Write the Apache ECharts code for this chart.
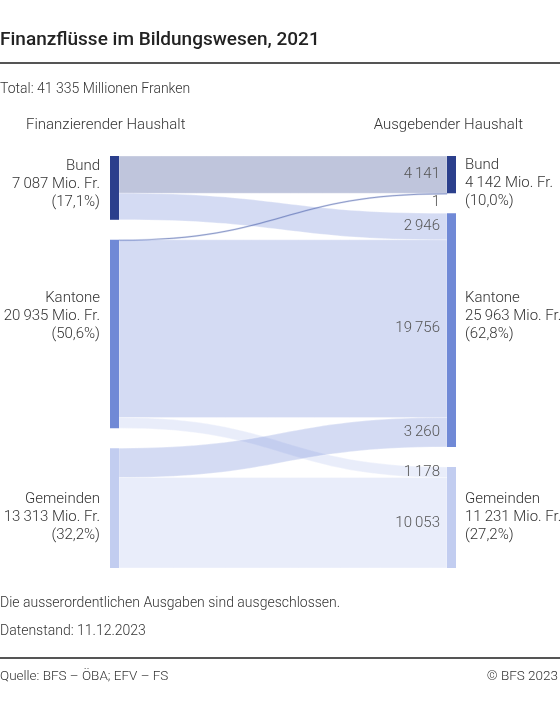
<!DOCTYPE html>
<html>
<head>
<meta charset="UTF-8">
<title>Finanzflüsse im Bildungswesen</title>
<script src="https://cdn.jsdelivr.net/npm/echarts@6/dist/echarts.min.js"></script>
<style>
  html, body { margin: 0; padding: 0; background: #fff; }
  #main { width: 560px; height: 717px; }
</style>
</head>
<body>
<div id="main"></div>
<script>
// Haushalte (links: finanzierend, rechts: ausgebend)
var labels = ['Bund', 'Kantone', 'Gemeinden'];
var nodeColors = ['#2b3f8c', '#7089d6', '#c2cdf0'];
var srcTotals = [7087, 20935, 13313];
var srcShares = ['17,1%', '50,6%', '32,2%'];
var dstTotals = [4142, 25963, 11231];
var dstShares = ['10,0%', '62,8%', '27,2%'];

// Flüsse: [von, nach, Mio. Fr.]
var flows = [
  [0, 0, 4141],
  [0, 1, 2946],
  [1, 0, 1],
  [1, 1, 19756],
  [1, 2, 1178],
  [2, 1, 3260],
  [2, 2, 10053]
];

var FONT = 'Roboto, "Liberation Sans", sans-serif';
var TXT = '#333';

function fmt(v) {
  return String(v).replace(/\B(?=(\d{3})+(?!\d))/g, '\u2009');
}

// kleine Verschiebungen der Knotenbeschriftungen, damit beide Seiten auf gleicher Höhe stehen
var srcLabelShift = [-4, -18, 9];
var dstLabelShift = [9, -14, 0];

var nodes = [];
labels.forEach(function (l, i) {
  nodes.push({
    name: 'F_' + i, value: srcTotals[i], depth: 0,
    itemStyle: { color: nodeColors[i] },
    label: { position: 'left', align: 'right', distance: 10, offset: [0, srcLabelShift[i]],
      formatter: l + '\n' + fmt(srcTotals[i]) + ' Mio. Fr.\n(' + srcShares[i] + ')' }
  });
});
labels.forEach(function (l, i) {
  nodes.push({
    name: 'A_' + i, value: dstTotals[i], depth: 1,
    itemStyle: { color: nodeColors[i] },
    label: { position: 'right', align: 'left', distance: 9, offset: [0, dstLabelShift[i]],
      formatter: l + '\n' + fmt(dstTotals[i]) + ' Mio. Fr.\n(' + dstShares[i] + ')' }
  });
});

var linkOpacity = [0.3, 0.3, 0.36];
var links = flows.map(function (f) {
  var thin = f[2] < 50;
  return {
    source: 'F_' + f[0], target: 'A_' + f[1], value: f[2],
    lineStyle: {
      color: nodeColors[f[1]],
      opacity: thin ? 0.5 : linkOpacity[f[1]],
      borderColor: thin ? '#7f93d4' : '#fff',
      borderWidth: thin ? 0.6 : 1
    }
  };
});

var chart = echarts.init(document.getElementById('main'));

function txt(size, weight) {
  return { fontFamily: FONT, fontSize: size, fontWeight: weight || 300, color: TXT };
}

var option = {
  animation: false,
  textStyle: { fontFamily: FONT },
  title: [
    { text: 'Finanzflüsse im Bildungswesen, 2021', left: 0, top: 31, padding: 0,
      textStyle: { fontFamily: FONT, fontSize: 19, fontWeight: 500, color: '#222' } },
    { text: 'Total: 41 335 Millionen Franken', left: 0, top: 82, padding: 0, textStyle: txt(14) },
    { text: 'Finanzierender Haushalt', left: 26, top: 118, padding: 0, textStyle: txt(15) },
    { text: 'Ausgebender Haushalt', right: 37, top: 118, padding: 0, textStyle: txt(15) },
    { text: 'Die ausserordentlichen Ausgaben sind ausgeschlossen.', left: 0, top: 596, padding: 0, textStyle: txt(14) },
    { text: 'Datenstand: 11.12.2023', left: 0, top: 624, padding: 0, textStyle: txt(14) },
    { text: 'Quelle: BFS – ÖBA; EFV – FS', left: 0, top: 670, padding: 0, textStyle: txt(13.5) },
    { text: '© BFS 2023', right: 2, top: 670, padding: 0, textStyle: txt(13.5) }
  ],
  graphic: [
    { type: 'rect', shape: { x: 0, y: 62, width: 560, height: 2 }, style: { fill: '#555' } },
    { type: 'rect', shape: { x: 0, y: 657, width: 560, height: 2 }, style: { fill: '#555' } }
  ],
  series: [{
    type: 'sankey',
    left: 110, right: 104, top: 156, bottom: 149,
    nodeWidth: 9,
    nodeGap: 20,
    layoutIterations: 0,
    nodeAlign: 'justify',
    draggable: false,
    emphasis: { disabled: true },
    label: {
      fontFamily: FONT, fontSize: 15, fontWeight: 300, color: TXT,
      lineHeight: 18
    },
    lineStyle: { curveness: 0.5 },
    data: nodes,
    links: links
  }]
};
chart.setOption(option);

// Beschriftung der Flüsse am Ende beim Zielhaushalt, aus dem Sankey-Layout gelesen
try {
  var sm = chart.getModel().getSeriesByIndex(0);
  var li = sm.layoutInfo || { x: 110, y: 156 };
  var graph = sm.getGraph();
  var texts = [];
  graph.eachEdge(function (e) {
    var n2 = e.node2.getLayout();
    var el = e.getLayout();
    var thin = el.dy < 3;
    texts.push({
      type: 'text',
      x: li.x + n2.x - 7,
      y: li.y + n2.y + el.ty + (thin ? el.dy + 1 : el.dy / 2),
      z: 100,
      style: {
        text: fmt(e.getValue()),
        align: 'right',
        verticalAlign: thin ? 'top' : 'middle',
        font: '300 15px ' + FONT,
        fill: '#555'
      }
    });
  });
  chart.setOption({ graphic: option.graphic.concat(texts) });
} catch (err) {
  console.log(err);
}
</script>
</body>
</html>
